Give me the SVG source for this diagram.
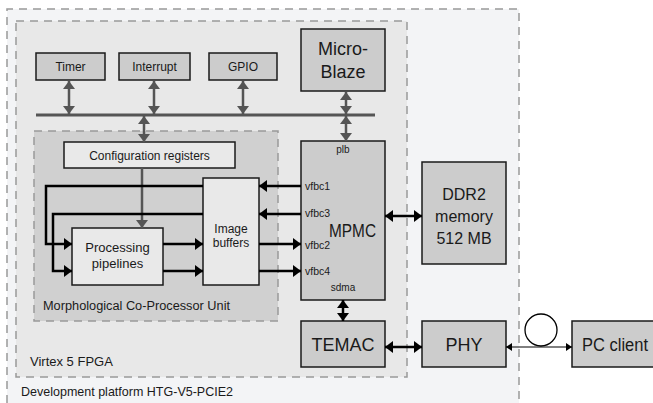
<svg xmlns="http://www.w3.org/2000/svg" width="653" height="403" viewBox="0 0 653 403">
<defs>
<style>
text{font-family:"Liberation Sans",Arial,sans-serif;fill:#1a1a1a}
.box{fill:#cccccc;stroke:#1a1a1a;stroke-width:1.5}
.lbox{fill:#e9e9e9;stroke:#1a1a1a;stroke-width:1.5}
.g{stroke:#555;stroke-width:2.5;fill:none}
.k{stroke:#000;stroke-width:2.5;fill:none}
.dash{stroke:#999;stroke-width:1.5;stroke-dasharray:8,6}
</style>
<marker id="ga" viewBox="0 0 8 12" refX="8" refY="6" markerWidth="8" markerHeight="12" markerUnits="userSpaceOnUse" orient="auto-start-reverse"><path d="M0,0L8,6L0,12z" fill="#555"/></marker>
<marker id="ka" viewBox="0 0 8 12" refX="8" refY="6" markerWidth="8" markerHeight="12" markerUnits="userSpaceOnUse" orient="auto-start-reverse"><path d="M0,0L8,6L0,12z" fill="#000"/></marker>
<marker id="sa" viewBox="0 0 6 8" refX="6" refY="4" markerWidth="6" markerHeight="8" markerUnits="userSpaceOnUse" orient="auto-start-reverse"><path d="M0,0L6,4L0,8z" fill="#000"/></marker>
</defs>
<rect width="653" height="403" fill="#fff"/>
<g id="platform">
<rect x="7" y="9" width="512" height="394" fill="#f3f4f6"/>
<path class="dash" d="M7,403V9H519V403" fill="none"/>
<text x="21" y="396" font-size="13" textLength="212" lengthAdjust="spacingAndGlyphs">Development platform HTG-V5-PCIE2</text>
</g>
<g id="fpga">
<rect x="16" y="21" width="391" height="356" fill="#e8e8e8" class="dash"/>
<text x="30" y="366" font-size="13">Virtex 5 FPGA</text>
</g>
<g id="mcpu">
<rect x="34" y="131" width="244" height="190" fill="#d0d0d0" class="dash"/>
<text x="43" y="310" font-size="12.5" textLength="187" lengthAdjust="spacingAndGlyphs">Morphological Co-Processor Unit</text>
</g>
<g id="timer"><rect class="box" x="36" y="53" width="69" height="27"/><text x="70.5" y="71" font-size="12" text-anchor="middle">Timer</text></g>
<g id="interrupt"><rect class="box" x="119" y="53" width="71" height="27"/><text x="154.5" y="71" font-size="12" text-anchor="middle">Interrupt</text></g>
<g id="gpio"><rect class="box" x="209" y="53" width="68" height="27"/><text x="243" y="71" font-size="12" text-anchor="middle">GPIO</text></g>
<g id="microblaze"><rect class="box" x="301" y="29" width="84" height="62"/><text x="343" y="55" font-size="18" text-anchor="middle">Micro-</text><text x="343" y="78" font-size="18" text-anchor="middle">Blaze</text></g>
<g id="config"><rect class="lbox" x="64" y="142" width="171" height="26"/><text x="149.5" y="160" font-size="12" text-anchor="middle">Configuration registers</text></g>
<g id="pipelines"><rect class="lbox" x="72" y="228" width="91" height="57"/><text x="117.5" y="252" font-size="13" text-anchor="middle">Processing</text><text x="117.5" y="268" font-size="13" text-anchor="middle">pipelines</text></g>
<g id="buffers"><rect class="lbox" x="203" y="178" width="56" height="107"/><text x="231" y="233" font-size="12" text-anchor="middle">Image</text><text x="231" y="247" font-size="12" text-anchor="middle">buffers</text></g>
<g id="mpmc"><rect class="box" x="301" y="141" width="84" height="159"/>
<text x="343" y="153" font-size="10" text-anchor="middle">plb</text>
<text x="305" y="190" font-size="10.5">vfbc1</text>
<text x="305" y="217" font-size="10.5">vfbc3</text>
<text x="305" y="249" font-size="10.5">vfbc2</text>
<text x="305" y="275" font-size="10.5">vfbc4</text>
<text x="329" y="237" font-size="19" textLength="47" lengthAdjust="spacingAndGlyphs">MPMC</text>
<text x="343" y="291" font-size="10" text-anchor="middle">sdma</text></g>
<g id="ddr2"><rect class="box" x="422" y="162" width="84" height="102"/>
<text x="464" y="200" font-size="16" text-anchor="middle">DDR2</text>
<text x="464" y="222" font-size="16" text-anchor="middle">memory</text>
<text x="464" y="244" font-size="16" text-anchor="middle">512 MB</text></g>
<g id="temac"><rect class="box" x="301" y="321" width="84" height="46"/><text x="343" y="351" font-size="18" text-anchor="middle">TEMAC</text></g>
<g id="phy"><rect class="box" x="422" y="321" width="84" height="46"/><text x="464" y="351" font-size="18" text-anchor="middle">PHY</text></g>
<g id="pcclient"><rect class="box" x="572" y="321" width="84" height="46"/><text x="582" y="351" font-size="18" textLength="66" lengthAdjust="spacingAndGlyphs">PC client</text></g>
<g id="connectors">
<line x1="36" y1="115" x2="375" y2="115" stroke="#555" stroke-width="3"/>
<line class="g" x1="69" y1="81" x2="69" y2="114" marker-start="url(#ga)" marker-end="url(#ga)"/>
<line class="g" x1="154" y1="81" x2="154" y2="114" marker-start="url(#ga)" marker-end="url(#ga)"/>
<line class="g" x1="243" y1="81" x2="243" y2="114" marker-start="url(#ga)" marker-end="url(#ga)"/>
<line class="g" x1="346" y1="92" x2="346" y2="114" marker-start="url(#ga)" marker-end="url(#ga)"/>
<line class="g" x1="346" y1="116" x2="346" y2="141" marker-start="url(#ga)" marker-end="url(#ga)"/>
<line class="g" x1="144" y1="116" x2="144" y2="142" marker-start="url(#ga)" marker-end="url(#ga)"/>
<line class="g" x1="142" y1="168" x2="142" y2="228" marker-end="url(#ga)"/>
<path class="k" d="M203,186H46V244H72" marker-end="url(#ka)"/>
<path class="k" d="M203,214H53V271H72" marker-end="url(#ka)"/>
<line class="k" x1="163" y1="244" x2="203" y2="244" marker-end="url(#ka)"/>
<line class="k" x1="163" y1="271" x2="203" y2="271" marker-end="url(#ka)"/>
<line class="k" x1="301" y1="186" x2="259" y2="186" marker-end="url(#ka)"/>
<line class="k" x1="301" y1="214" x2="259" y2="214" marker-end="url(#ka)"/>
<line class="k" x1="259" y1="244" x2="301" y2="244" marker-end="url(#ka)"/>
<line class="k" x1="259" y1="271" x2="301" y2="271" marker-end="url(#ka)"/>
<line class="k" x1="385" y1="216" x2="422" y2="216" marker-start="url(#ka)" marker-end="url(#ka)"/>
<line class="k" x1="343" y1="300" x2="343" y2="321" marker-start="url(#ka)" marker-end="url(#ka)"/>
<line class="k" x1="385" y1="347" x2="422" y2="347" marker-start="url(#ka)" marker-end="url(#ka)"/>
<line x1="506" y1="347" x2="572" y2="347" stroke="#000" stroke-width="1.2" marker-start="url(#sa)" marker-end="url(#sa)"/>
<circle cx="541" cy="330" r="16" fill="#fff" stroke="#000" stroke-width="1.3"/>
</g>
</svg>
